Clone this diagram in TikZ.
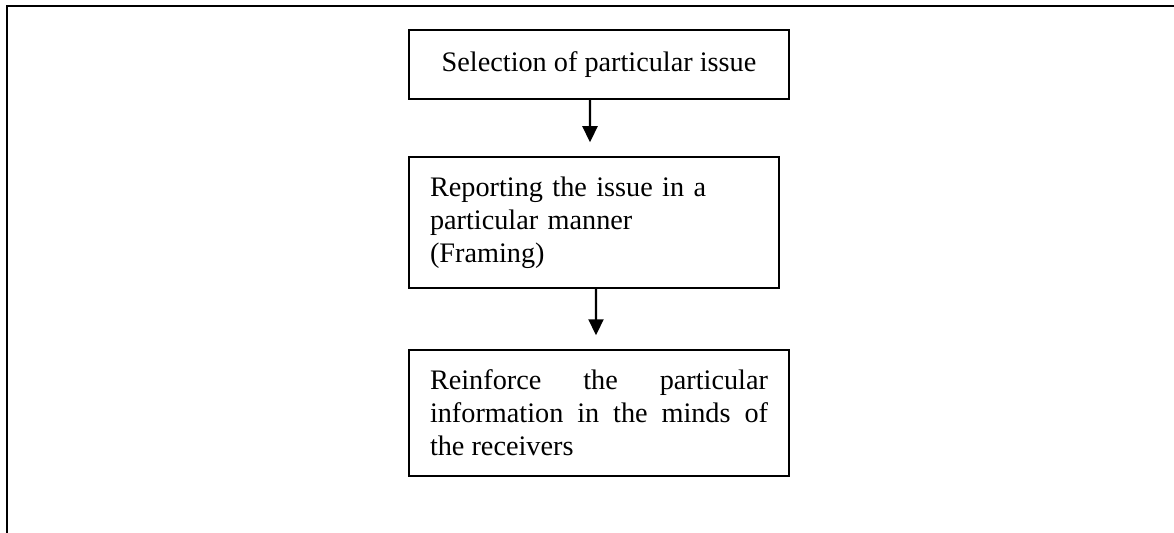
\documentclass[tikz,border=0pt]{standalone}
\usepackage{fontspec}
\setmainfont{Liberation Serif}
\usepackage{tikz}
\usetikzlibrary{positioning, arrows.meta}

\tikzset{
  stagebox/.style={draw, line width=0.6pt, inner xsep=8.4pt, inner ysep=0pt,
    font=\fontsize{11.3}{13.2}\selectfont},
  flow/.style={line width=0.9pt, -{Triangle[width=6pt,length=6.4pt]}, shorten >=5.6pt},
  frameline/.style={line width=0.9pt}
}

\begin{document}
\begin{tikzpicture}[x=0.4pt, y=-0.4pt]
      \useasboundingbox (0,0) rectangle (1174,533);
      % outer frame (top and left only)
      \draw[frameline] (7,533) -- (7,6) -- (1174,6);
      % stages
      \node[stagebox, minimum width=152pt, minimum height=27.6pt] (selection) at (599,64.5)
        {Selection of particular issue};
      \node[stagebox, text width=131.2pt, align=left, minimum height=52.4pt] (reporting) at (594,222.5)
        {Reporting the issue in a\\ particular manner\\ (Framing)};
      \node[stagebox, text width=135.2pt, align=justify, minimum height=50.4pt] (reinforce) at (599,413)
        {Reinforce the particular\linebreak information in the minds of\linebreak the receivers};
      % connectors
      \draw[flow] ([xshift=-3.6pt]selection.south) -- ([xshift=-1.6pt]reporting.north);
      \draw[flow] ([xshift=0.8pt]reporting.south) -- ([xshift=-1.2pt]reinforce.north);
    \end{tikzpicture}
\end{document}
